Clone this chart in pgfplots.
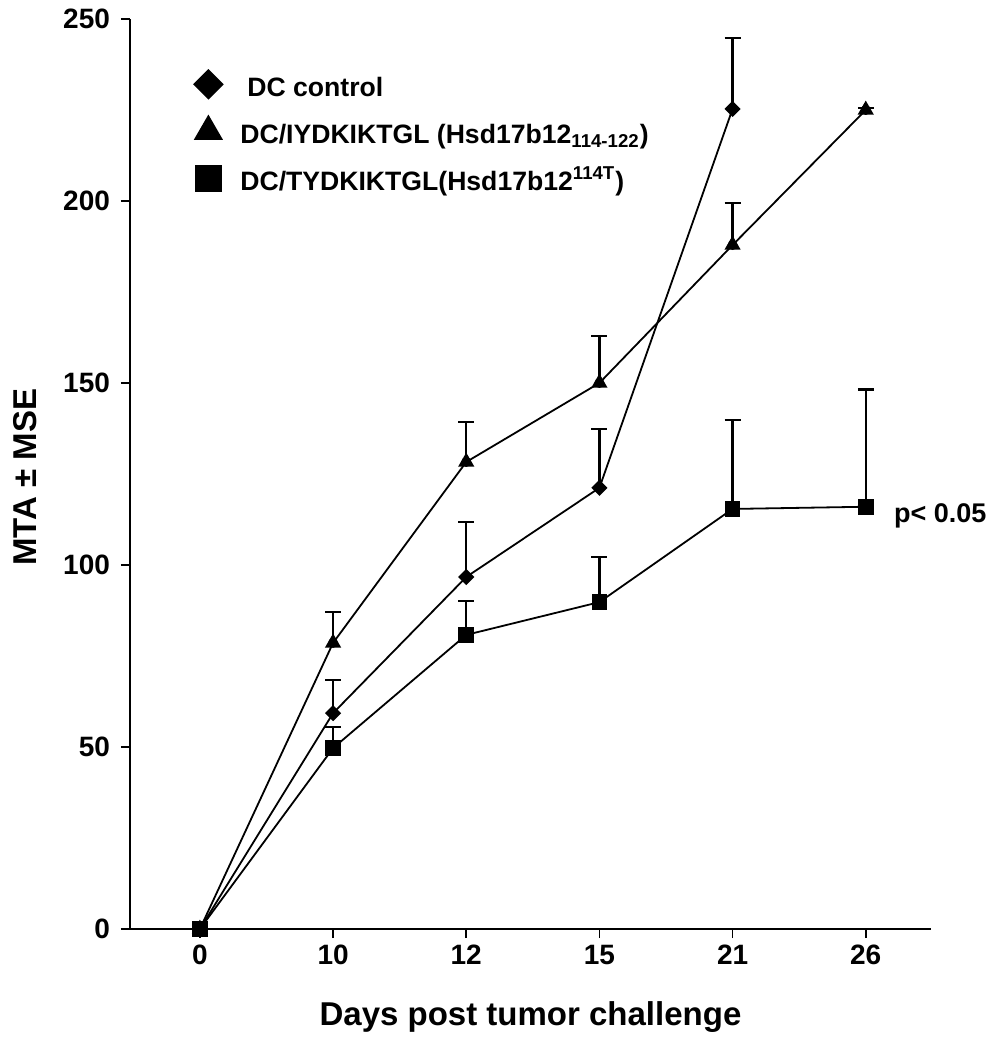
\documentclass[border=0pt]{standalone}
\usepackage{pgfplots}
\pgfplotsset{compat=1.18}
\usepackage{fontspec}
\setmainfont{Liberation Sans}
\begin{document}
\begin{tikzpicture}
\begin{axis}[
  scale only axis, width=400.5pt, height=455pt,
  xmin=-0.525, xmax=5.49, ymin=0, ymax=250,
  clip=false,
  axis x line*=bottom, axis y line*=left,
  axis line style={line width=0.8pt, black},
  tick align=outside, major tick length=4.5pt,
  tick style={line width=0.8pt, black},
  xtick={0,...,5}, xticklabels={0,10,12,15,21,26},
  ytick={0,50,...,250},
  /pgf/number format/assume math mode=true,
  ticklabel style={font=\bfseries\fontsize{14}{16}\selectfont},
  yticklabel style={xshift=-2pt},
  xlabel={Days post tumor challenge},
  xlabel style={font=\bfseries\fontsize{16.5}{19}\selectfont, at={(axis description cs:0.5,0)}, anchor=base, yshift=-48pt},
  ylabel={MTA ± MSE},
  ylabel style={font=\bfseries\fontsize{16.5}{19}\selectfont, at={(axis description cs:-0.1161,0.4967)}, anchor=base},
  legend cell align=left,
  legend image code/.code={\path[draw=none, fill=none] (-8pt,-4pt) rectangle (8pt,4pt); \draw[#1] plot coordinates {(0pt,0pt)};},
  legend style={draw=none, fill=none, at={(axis description cs:0.0774,0.9462)}, anchor=north west,
    inner sep=0pt, row sep=7.5pt, column sep=8pt,
    nodes={inner sep=0pt, text height=14pt, text depth=2pt, font=\bfseries\fontsize{13.3}{15}\selectfont}},
  every axis plot/.append style={line width=0.9pt, black},
]
% legend images
\addlegendimage{only marks, mark=square*, mark options={rotate=45, fill=black}, mark size=4.95pt}
\addlegendentry{\hspace*{3.5pt}DC control}
\addlegendimage{only marks, mark=triangle*, mark options={fill=black}, mark size=7.5pt}
\addlegendentry{DC/IYDKIKTGL (Hsd17b12\textsubscript{114-122})}
\addlegendimage{only marks, mark=square*, mark options={fill=black}, mark size=6.25pt}
\addlegendentry{DC/TYDKIKTGL(Hsd17b12\textsuperscript{114T})}

% error bars (upper only)
\addplot[forget plot, only marks, mark=none, error bars/.cd, y dir=plus, y explicit,
  error bar style={line width=1.1pt, black}, error mark options={rotate=90, mark size=4pt, line width=1.1pt, black}]
  coordinates {(1,59.3) +- (0,9.1) (2,96.7) +- (0,15.1) (3,121.2) +- (0,16.2) (4,225.3) +- (0,19.5)};
\addplot[forget plot, only marks, mark=none, error bars/.cd, y dir=plus, y explicit,
  error bar style={line width=1.1pt, black}, error mark options={rotate=90, mark size=4pt, line width=1.1pt, black}]
  coordinates {(1,78.6) +- (0,8.5) (2,128.3) +- (0,11.0) (3,150.0) +- (0,12.9) (4,187.9) +- (0,11.6) (5,225.0) +- (0,0.5)};
\addplot[forget plot, only marks, mark=none, error bars/.cd, y dir=plus, y explicit,
  error bar style={line width=1.1pt, black}, error mark options={rotate=90, mark size=4pt, line width=1.1pt, black}]
  coordinates {(1,49.7) +- (0,5.8) (2,80.8) +- (0,9.3) (3,89.8) +- (0,12.4) (4,115.4) +- (0,24.4) (5,116.0) +- (0,32.2)};

% series
\addplot[forget plot, mark=triangle*, mark size=3.8pt, mark options={fill=black, solid}]
  coordinates {(0,0) (1,78.6) (2,128.3) (3,150.0) (4,187.9) (5,225.0)};
\addplot[forget plot, mark=square*, mark size=2.4pt, mark options={rotate=45, fill=black, solid}]
  coordinates {(0,0) (1,59.3) (2,96.7) (3,121.2) (4,225.3)};
\addplot[forget plot, mark=square*, mark size=3.5pt, mark options={fill=black, solid}]
  coordinates {(0,0) (1,49.7) (2,80.8) (3,89.8) (4,115.4) (5,116.0)};

\node[anchor=base west, inner sep=0pt, font=\bfseries\fontsize{13.5}{15}\selectfont]
  at (axis cs:5,116) [xshift=14pt, yshift=-8pt] {p< 0.05};
\end{axis}
\path ([shift={(-65pt,-60.5pt)}]current axis.south west) rectangle ([shift={(31pt,9.5pt)}]current axis.north east);
\end{tikzpicture}
\end{document}
